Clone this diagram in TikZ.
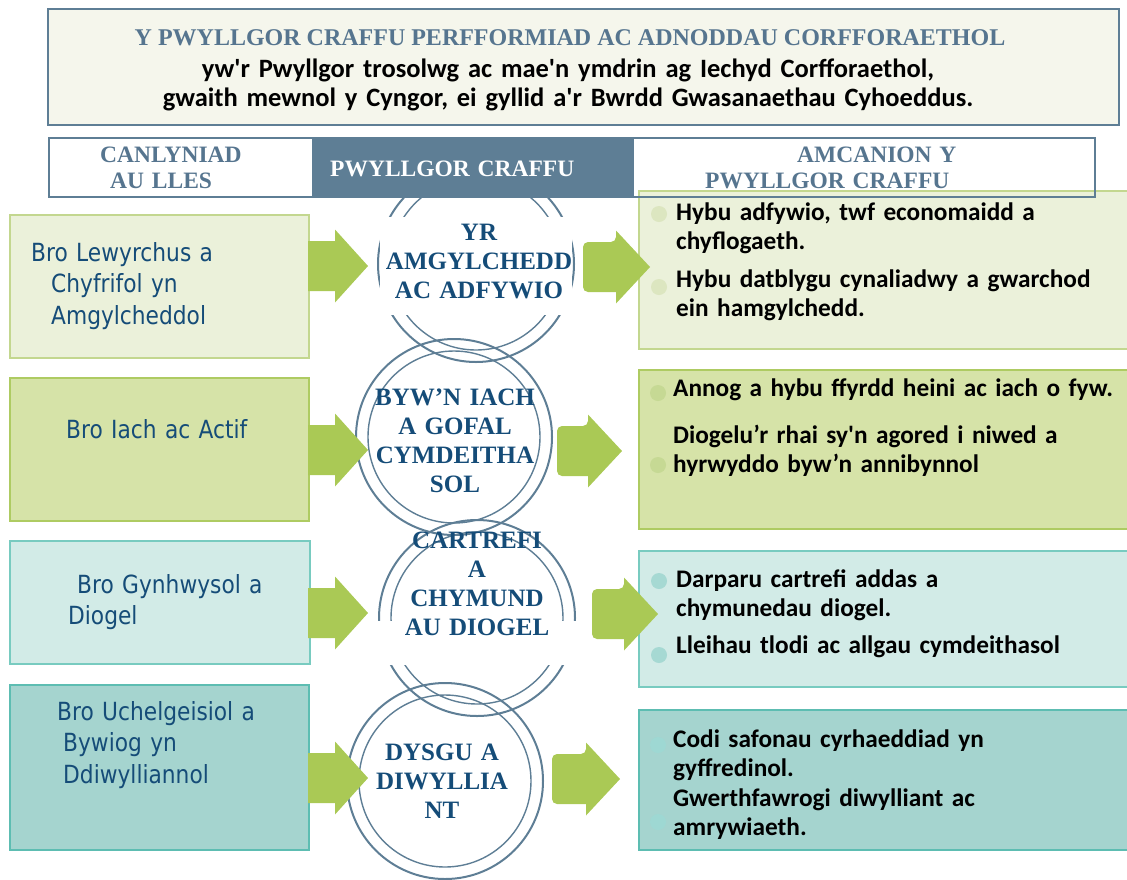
\documentclass[tikz,border=0pt]{standalone}
\usepackage{fontspec}
\setmainfont{Liberation Serif}
\newfontfamily\calfont{Carlito}
\newfontfamily\tahfont[FakeStretch=0.87]{DejaVu Sans}
\usetikzlibrary{positioning}

\definecolor{slate}{HTML}{5E7E95}
\definecolor{slatetext}{HTML}{56758F}
\definecolor{navy}{HTML}{154C78}
\definecolor{cream}{HTML}{F5F6EC}
\definecolor{greenA}{HTML}{EBF1DA}
\definecolor{greenAline}{HTML}{C3D78F}
\definecolor{greenAdot}{HTML}{DCE6C0}
\definecolor{greenB}{HTML}{D6E3A8}
\definecolor{greenBline}{HTML}{AECB62}
\definecolor{greenBdot}{HTML}{C6D994}
\definecolor{tealA}{HTML}{D2EBE7}
\definecolor{tealAline}{HTML}{78CBC0}
\definecolor{tealAdot}{HTML}{A6D9D3}
\definecolor{tealB}{HTML}{A5D4CF}
\definecolor{tealBline}{HTML}{5DBDB2}
\definecolor{tealBdot}{HTML}{9ED8D3}
\definecolor{arrowgreen}{HTML}{AAC955}

% block arrow: [back corner radius]{x}{y}{body}{head}
\newcommand\garrow[5][0pt]{\fill[arrowgreen] (#2+#4,#3-25) -- ++(0,-11.5) -- ++(#5,36.5) -- ++(-#5,36.5) -- ++(0,-11.5) {[rounded corners=#1] -- ++(-#4,0) -- ++(0,-50) -- ++(#4,0)} -- cycle;}

\begin{document}
\begin{tikzpicture}
[
    x=1pt, y=-1pt,
    ring/.style={circle, draw=slate, line width=2pt, minimum size=196pt, inner sep=0pt},
    ringin/.style={circle, draw=slate, line width=1.4pt, minimum size=172pt, inner sep=0pt},
    panel/.style={rectangle, line width=2pt, inner sep=0pt, anchor=north west},
    dot/.style={circle, inner sep=0pt, minimum size=16pt},
    circtext/.style={font=\bfseries\fontsize{25}{29.3}\selectfont, text=navy, align=center, text width=200pt, inner sep=0pt, anchor=base},
    colhead/.style={font=\bfseries\fontsize{23.5}{26}\selectfont, text=slatetext, align=left, text width=300pt, inner sep=0pt, anchor=base west},
    brotext/.style={font=\tahfont\fontsize{25}{31.8}\selectfont, text=navy, align=left, text width=270pt, inner sep=0pt, anchor=base west},
    amtext/.style={font=\calfont\bfseries\fontsize{25.3}{29.5}\selectfont, text=black, align=left, text width=460pt, inner sep=0pt, anchor=base west},
]
\useasboundingbox (0,0) rectangle (1127,879);

% the four double rings
\node[ring] (c1) at (476,264) {};
\node[ringin] (c1i) at (c1) {};
\node[ring] (c2) at (454,437) {};
\node[ringin] (c2i) at (c2) {};
\node[ring] (c3) at (477,618) {};
\node[ringin] (c3i) at (c3) {};
\node[ring] (c4) at (445,781) {};
\node[ringin] (c4i) at (c4) {};
\fill[white] (380,217) rectangle (572,315);
\fill[white] (376,621) rectangle (580,665);

\node[circtext] (c1txt) at (479,240) {YR\\AMGYLCHEDD\\AC ADFYWIO};
\node[circtext] (c2txt) at (455,405) {BYW’N IACH\\A GOFAL\\CYMDEITHA\\SOL};
\node[circtext] (c3txt) at (477,548) {CARTREFI\\A\\CHYMUND\\AU DIOGEL};
\node[circtext] (c4txt) at (442,760) {DYSGU A\\DIWYLLIA\\NT};

% left column
\node[panel, fill=greenA, draw=greenAline, minimum width=299pt, minimum height=143pt] (bro1) at (9,214) {};
\node[panel, fill=greenB, draw=greenBline, minimum width=299pt, minimum height=143pt] (bro2) at (9,377) {};
\node[panel, fill=tealA, draw=tealAline, minimum width=300pt, minimum height=123pt] (bro3) at (9,540) {};
\node[panel, fill=tealB, draw=tealBline, minimum width=299pt, minimum height=165pt] (bro4) at (9,684) {};
\node[brotext] (bro1txt) at (31,261) {Bro Lewyrchus a\\\hspace*{20pt}Chyfrifol yn\\\hspace*{20pt}Amgylcheddol};
\node[brotext] (bro2txt) at (66,438) {Bro Iach ac Actif};
\node[brotext] (bro3txt) at (68,593) {\hspace*{9pt}Bro Gynhwysol a\\Diogel};
\node[brotext] (bro4txt) at (57,720) {Bro Uchelgeisiol a\\\hspace*{6pt}Bywiog yn\\\hspace*{6pt}Ddiwylliannol};

% right column
\node[panel, fill=greenA, draw=greenAline, minimum width=500pt, minimum height=158pt] (amc1) at (638,190) {};
\node[panel, fill=greenB, draw=greenBline, minimum width=500pt, minimum height=159pt] (amc2) at (638,369) {};
\node[panel, fill=tealA, draw=tealAline, minimum width=500pt, minimum height=136pt] (amc3) at (638,550) {};
\node[panel, fill=tealB, draw=tealBline, minimum width=500pt, minimum height=140pt] (amc4) at (638,709) {};
\node[dot, fill=greenAdot] (d1a) at (659,214) {};
\node[dot, fill=greenAdot] (d1b) at (659,287) {};
\node[dot, fill=greenBdot] (d2a) at (658,393) {};
\node[dot, fill=greenBdot] (d2b) at (658,465) {};
\node[dot, fill=tealAdot] (d3a) at (659,581) {};
\node[dot, fill=tealAdot] (d3b) at (659,655) {};
\node[dot, fill=tealBdot] (d4a) at (658,745) {};
\node[dot, fill=tealBdot] (d4b) at (658,822) {};
\node[amtext] (a1a) at (676,220) {Hybu adfywio, twf economaidd a\\chyflogaeth.};
\node[amtext] (a1b) at (676,287) {Hybu datblygu cynaliadwy a gwarchod\\ein hamgylchedd.};
\node[amtext] (a2a) at (673,396) {Annog a hybu ffyrdd heini ac iach o fyw.};
\node[amtext] (a2b) at (673,443) {Diogelu’r rhai sy\textquotesingle n agored i niwed a\\hyrwyddo byw’n annibynnol};
\node[amtext] (a3a) at (676,587) {Darparu cartrefi addas a\\chymunedau diogel.};
\node[amtext] (a3b) at (676,653) {Lleihau tlodi ac allgau cymdeithasol};
\node[amtext] (a4a) at (673,747) {Codi safonau cyrhaeddiad yn\\gyffredinol.};
\node[amtext] (a4b) at (673,806) {Gwerthfawrogi diwylliant ac\\amrywiaeth.};

% heading
\node[panel, fill=cream, draw=slate, minimum width=1071pt, minimum height=116pt] (pennawd) at (47,8) {};
\node[font=\bfseries\fontsize{24}{28}\selectfont, text=slatetext, inner sep=0pt, anchor=base] (teitl) at (570,45) {Y PWYLLGOR CRAFFU PERFFORMIAD AC ADNODDAU CORFFORAETHOL};
\node[font=\calfont\bfseries\fontsize{26.5}{29}\selectfont, align=center, text width=1000pt, inner sep=0pt, anchor=base] (isdeitl) at (568,77) {yw\textquotesingle r Pwyllgor trosolwg ac mae\textquotesingle n ymdrin ag Iechyd Corfforaethol,\\gwaith mewnol y Cyngor, ei gyllid a\textquotesingle r Bwrdd Gwasanaethau Cyhoeddus.};

\node[panel, fill=white, draw=slate, minimum width=264pt, minimum height=59pt] (colA) at (48,137) {};
\node[panel, fill=slate, draw=slate, minimum width=320pt, minimum height=59pt] (colB) at (312,137) {};
\node[panel, draw=slate, minimum width=462pt, minimum height=59pt] (colC) at (632,137) {};
\node[colhead] (colAtxt) at (100,162) {CANLYNIAD\\\hspace*{10pt}AU LLES};
\node[colhead, text=white] (colBtxt) at (330,176) {PWYLLGOR CRAFFU};
\node[colhead] (colCtxt) at (705,162) {\hspace*{92pt}AMCANION Y\\PWYLLGOR CRAFFU};

% arrows
\garrow{308}{266}{27}{33}
\garrow{308}{450}{27}{33}
\garrow{308}{613}{27}{33}
\garrow{308}{778}{27}{33}
\garrow[5pt]{583}{267}{33}{34}
\garrow[5pt]{557}{451}{31}{34}
\garrow[5pt]{592}{614}{32}{34}
\garrow[5pt]{552}{779}{34}{34}
\end{tikzpicture}
\end{document}
